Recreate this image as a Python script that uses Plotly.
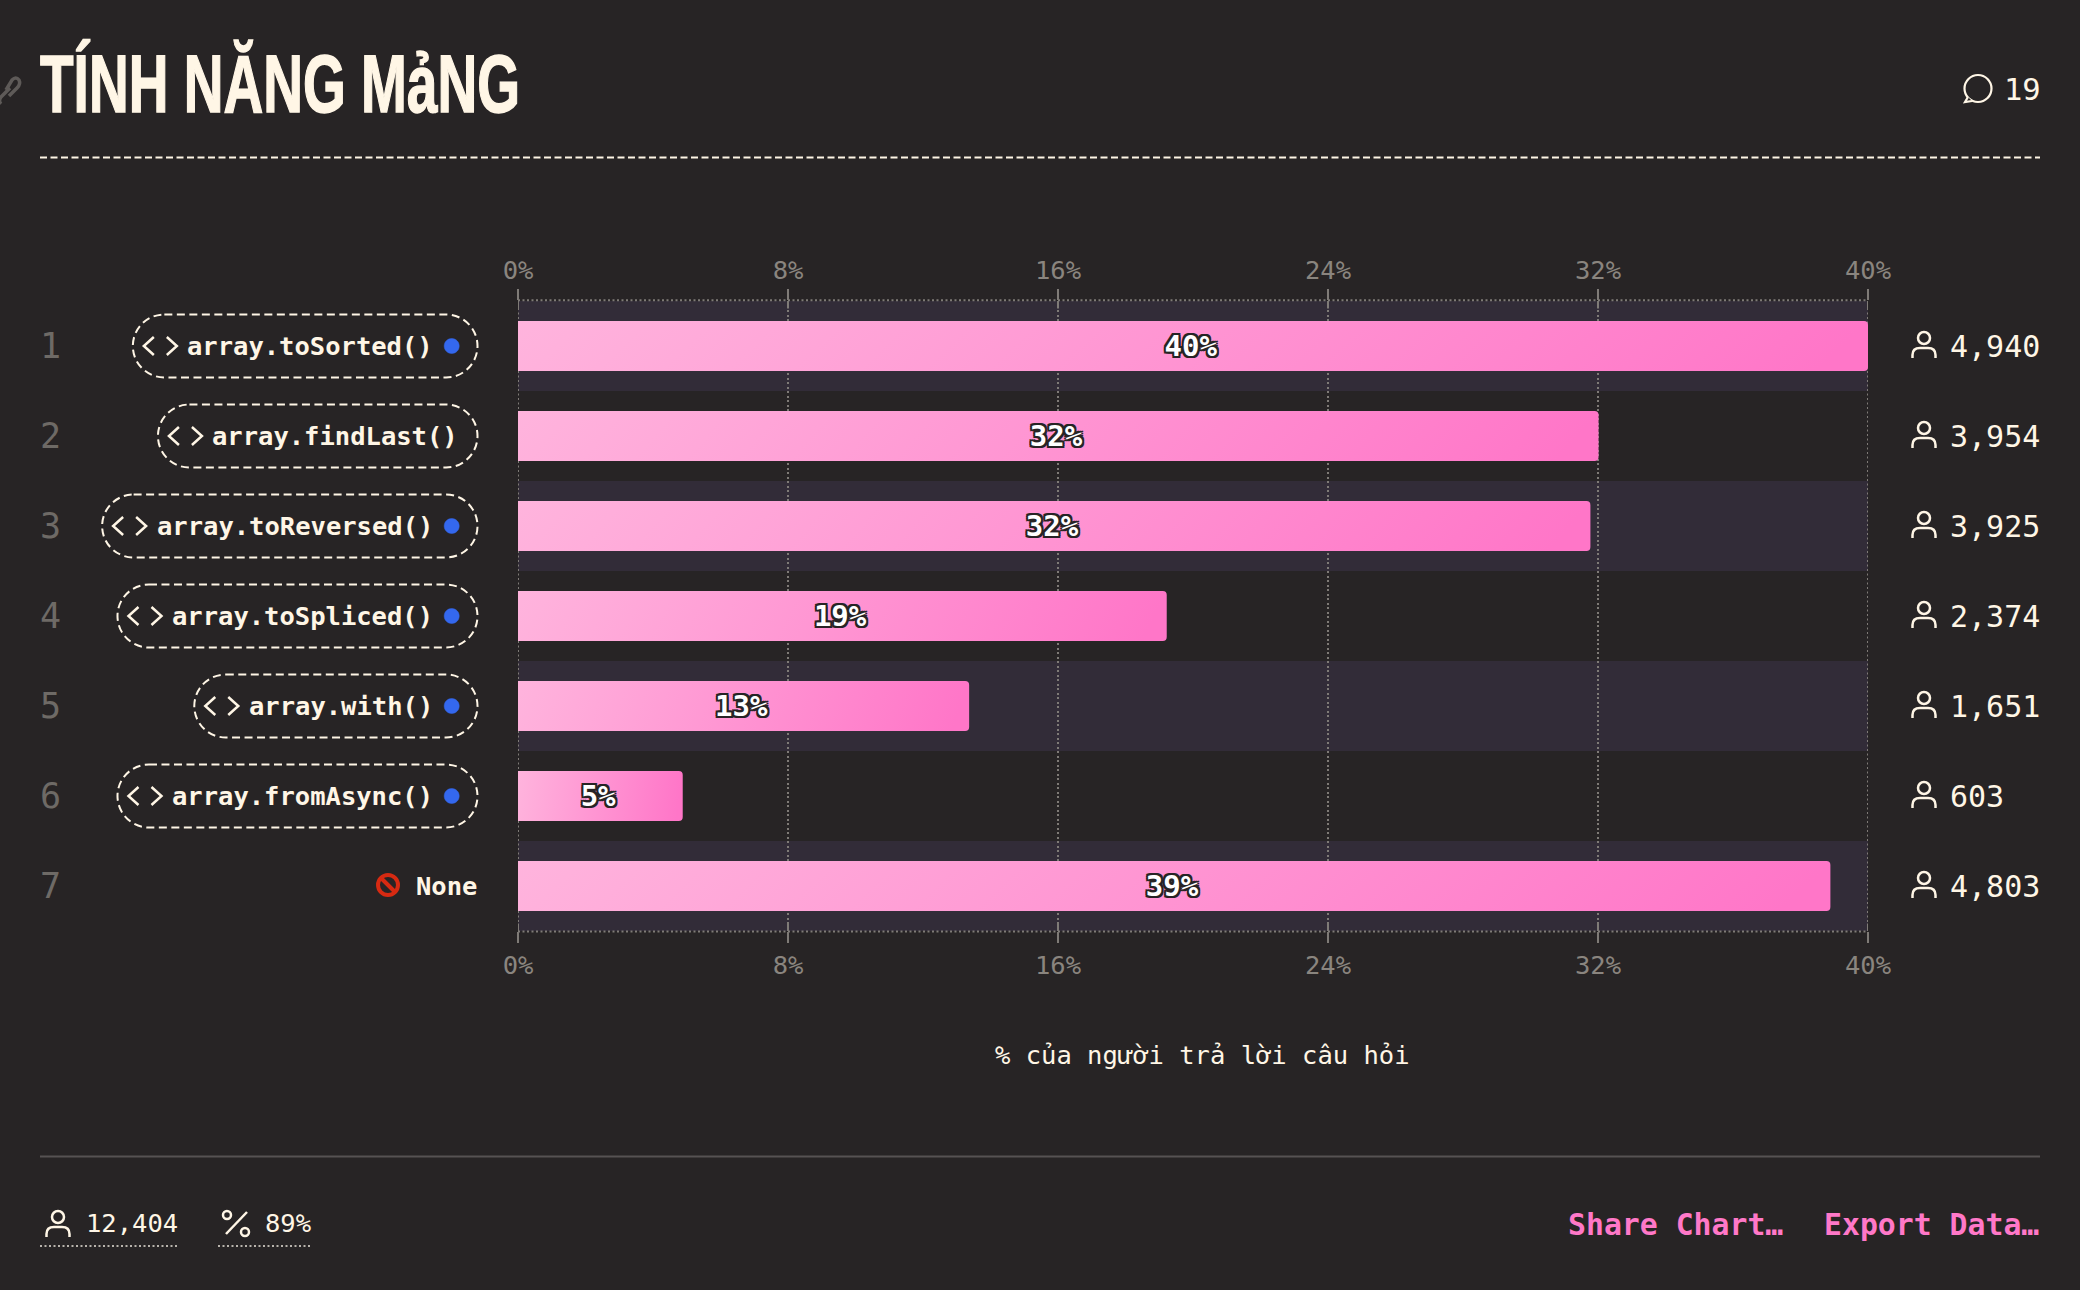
import plotly.graph_objects as go

# ---- data ----
categories = ["array.toSorted()", "array.findLast()", "array.toReversed()", "array.toSpliced()",
              "array.with()", "array.fromAsync()", "None"]
percent_values = [39.83, 31.88, 31.64, 19.14, 13.31, 4.86, 38.72]
percent_labels = ["40%", "32%", "32%", "19%", "13%", "5%", "39%"]
respondents = ["4,940", "3,954", "3,925", "2,374", "1,651", "603", "4,803"]
has_dot = [True, False, True, True, True, True, False]
tick_values = [0, 7.966, 15.932, 23.898, 31.864, 39.83]
tick_labels = ["0%", "8%", "16%", "24%", "32%", "40%"]
title_text = "TÍNH NĂNG MảNG"
axis_title = "% của người trả lời câu hỏi"
comment_count = "19"
total_respondents = "12,404"
total_percent = "89%"
footer_links = ["Share Chart…", "Export Data…"]

# ---- style / layout ----
W, H = 2080, 1290
L, R, T, B = 518, 1868, 301, 931
BG = "#272425"
BAND = "#322C38"
CREAM = "#FFF6E6"
GRID = "#7F7B77"
TICKC = "#8A857F"
PINK = "#FF78C8"
MONO = "DejaVu Sans Mono"
CHAR = 15.36
DOTS = "2px,2.5px"


def px(x):
    return (x - L) / (R - L)


def py(y):
    return (B - y) / (B - T)


def P(x, y):
    return f"{px(x):.5f},{py(y):.5f}"


shapes, annots = [], []


def path(d, color=CREAM, width=2.5, dash=None, fill=None):
    """d: list of (cmd, pixel points)"""
    s = ""
    for cmd, pts in d:
        s += cmd + " ".join(P(*p) for p in pts)
    line = dict(color=color, width=width)
    if dash:
        line["dash"] = dash
    shapes.append(dict(type="path", xref="paper", yref="paper", path=s, line=line,
                       fillcolor=fill or "rgba(0,0,0,0)", layer="above"))


def circle(cx, cy, r, **kw):
    k = 0.5523 * r
    path([("M", [(cx + r, cy)]),
          ("C", [(cx + r, cy + k), (cx + k, cy + r), (cx, cy + r)]),
          ("C", [(cx - k, cy + r), (cx - r, cy + k), (cx - r, cy)]),
          ("C", [(cx - r, cy - k), (cx - k, cy - r), (cx, cy - r)]),
          ("C", [(cx + k, cy - r), (cx + r, cy - k), (cx + r, cy)]), ("Z", [])], **kw)


def pill(x0, x1, y0, y1, **kw):
    r = (y1 - y0) / 2
    k = 0.5523 * r
    path([("M", [(x0 + r, y0)]), ("L", [(x1 - r, y0)]),
          ("C", [(x1 - r + k, y0), (x1, y0 + r - k), (x1, y0 + r)]),
          ("C", [(x1, y1 - r + k), (x1 - r + k, y1), (x1 - r, y1)]),
          ("L", [(x0 + r, y1)]),
          ("C", [(x0 + r - k, y1), (x0, y1 - r + k), (x0, y0 + r)]),
          ("C", [(x0, y0 + r - k), (x0 + r - k, y0), (x0 + r, y0)]), ("Z", [])], **kw)


def person(cx, cy):
    circle(cx, cy - 8, 6, width=2.5)
    path([("M", [(cx - 11.5, cy + 12)]), ("L", [(cx - 11.5, cy + 9)]),
          ("Q", [(cx - 11.5, cy + 2), (cx - 4, cy + 2)]), ("L", [(cx + 4, cy + 2)]),
          ("Q", [(cx + 11.5, cy + 2), (cx + 11.5, cy + 9)]), ("L", [(cx + 11.5, cy + 12)])], width=2.5)


def text(x, y, s, size, color=CREAM, anchor="left", family=MONO, weight=400):
    annots.append(dict(xref="paper", yref="paper", x=px(x), y=py(y), text=s, showarrow=False,
                       xanchor=anchor, yanchor="middle", borderpad=0,
                       font=dict(size=size, color=color, family=family, weight=weight)))


# alternating row bands (under the gridlines)
for i in range(0, len(categories), 2):
    shapes.append(dict(type="rect", xref="paper", yref="y", x0=0, x1=1, y0=i - 0.5, y1=i + 0.5,
                       fillcolor=BAND, line=dict(width=0), layer="below"))

# dotted gridlines at the two ends of the axis (plotly drops them at the range edges)
for tv in (tick_values[0], tick_values[-1]):
    shapes.append(dict(type="line", xref="x", yref="paper", x0=tv, x1=tv, y0=0, y1=1,
                       line=dict(color=GRID, width=2, dash=DOTS), layer="between"))

# dotted frame top / bottom
for yy in (py(931.5), py(300.3)):
    shapes.append(dict(type="line", xref="paper", yref="paper", x0=0, x1=1, y0=yy, y1=yy,
                       line=dict(color=GRID, width=2, dash=DOTS), layer="above"))
# inner stubs of the ticks
for tv in tick_values:
    for a, b in ((0, 0.012), (0.988, 1)):
        shapes.append(dict(type="line", xref="x", yref="paper", x0=tv, x1=tv, y0=a, y1=b,
                           line=dict(color=GRID, width=2), layer="above"))

# row furniture
for i, cat in enumerate(categories):
    cy = 346 + 90 * i
    text(39, cy, str(i + 1), 35, color="#6E6A66")
    person(1924, cy)
    text(1949, cy, respondents[i], 30)
    if cat == "None":
        text(477.5, cy, cat, 25.5, anchor="right", weight=700)
        circle(388, cy - 1, 10, color="#D62A12", width=4)
        path([("M", [(381, cy - 8)]), ("L", [(395, cy + 6)])], color="#D62A12", width=4)
        continue
    right = 433.6 if has_dot[i] else 458.7
    start = right - CHAR * len(cat)
    left = start - 55
    pill(left, 477.5, cy - 31.5, cy + 31.5, dash="8px,4.5px", width=2)
    path([("M", [(left + 21, cy - 9)]), ("L", [(left + 11, cy)]), ("L", [(left + 21, cy + 9)])], width=2.5)
    path([("M", [(left + 34, cy - 9)]), ("L", [(left + 44, cy)]), ("L", [(left + 34, cy + 9)])], width=2.5)
    text(right, cy, cat, 25.5, anchor="right", weight=700)
    if has_dot[i]:
        circle(451.7, cy, 7.5, color="#3468EE", width=0.5, fill="#3468EE")

# header
text(40, 84, title_text, 82, family="Liberation Sans", weight=700)
shapes.append(dict(type="line", xref="paper", yref="paper", x0=px(40), x1=px(2040), y0=py(157.5), y1=py(157.5),
                   line=dict(color=CREAM, width=2, dash="7px,3.5px")))
# link icon
LINK = "#5E5A58"
path([("M", [(6, 90)]), ("L", [(12, 80)]), ("Q", [(16, 76), (19, 80)]), ("Q", [(21, 84), (17, 88)]),
      ("L", [(9, 96)])], color=LINK, width=3.5)
path([("M", [(10, 88)]), ("L", [(1, 97)]), ("Q", [(-2, 101), (1, 104)])], color=LINK, width=3.5)
# comment icon + count
circle(1978, 88.5, 13.5, width=2.2)
path([("M", [(1968, 97)]), ("L", [(1965, 102)]), ("L", [(1972, 101)])], width=2.2, fill=BG)
text(2003, 89, comment_count, 30.5)

# axis title
text(1202, 1055, axis_title, 25.5, anchor="center")

# footer
shapes.append(dict(type="line", xref="paper", yref="paper", x0=px(40), x1=px(2040), y0=py(1156.5), y1=py(1156.5),
                   line=dict(color="#565253", width=2)))
person(58, 1225)
text(85, 1223, total_respondents, 25.5)
path([("M", [(226, 1234)]), ("L", [(247, 1212)])], width=2.5)
circle(227, 1215, 4, width=2.5)
circle(245, 1232, 4, width=2.5)
text(263.5, 1223, total_percent, 25.5)
for a, b in ((40, 178), (218, 310)):
    shapes.append(dict(type="line", xref="paper", yref="paper", x0=px(a), x1=px(b), y0=py(1246), y1=py(1246),
                       line=dict(color="#B8B3AC", width=2, dash=DOTS)))
text(1567, 1224, footer_links[0], 29.8, color=PINK, weight=700)
text(1823, 1224, footer_links[1], 29.8, color=PINK, weight=700)

shadow = ",".join(f"{dx}px {dy}px 0 {BG}" for dx in (-2, 0, 2) for dy in (-2, 0, 2) if dx or dy)

fig = go.Figure()
fig.add_trace(go.Bar(
    x=percent_values, y=categories, orientation="h", text=percent_labels,
    textposition="inside", insidetextanchor="middle", textangle=0, constraintext="none",
    textfont=dict(family=MONO, size=29, color="#FFFFFF", weight=700, shadow=shadow),
    marker=dict(color=PINK, line=dict(width=0)), hoverinfo="skip", showlegend=False))
# carrier for the top axis
fig.add_trace(go.Scatter(x=percent_values, y=categories, xaxis="x2", mode="markers",
                         marker=dict(opacity=0), hoverinfo="skip", showlegend=False))

axis_common = dict(
    range=[0, percent_values[0]], tickmode="array", tickvals=tick_values, ticktext=tick_labels,
    tickfont=dict(family=MONO, size=25.5, color=TICKC), ticks="outside", ticklen=11, tickwidth=2,
    tickcolor=GRID, showgrid=True, gridcolor=GRID, gridwidth=2, griddash=DOTS,
    zeroline=False, showline=False)
fig.update_layout(
    width=W, height=H, autosize=False,
    margin=dict(l=L, r=W - R, t=T, b=H - B, pad=0),
    paper_bgcolor=BG, plot_bgcolor=BG,
    bargap=0.444, barcornerradius=4, showlegend=False, hovermode=False,
    xaxis=dict(side="bottom", ticklabelstandoff=0, **axis_common),
    xaxis2=dict(side="top", overlaying="x", anchor="y", ticklabelstandoff=0, **axis_common),
    yaxis=dict(type="category", categoryorder="array", categoryarray=categories,
               range=[len(categories) - 0.5, -0.5], showticklabels=False, ticks="",
               showgrid=False, zeroline=False, showline=False),
    shapes=shapes, annotations=annots)

post = """
document.body.style.margin='0';
document.documentElement.style.overflow='hidden';
var gd=document.getElementById('{plot_id}');
var svg=gd.querySelector('svg.main-svg');
var NS='http://www.w3.org/2000/svg';
var defs=svg.querySelector('defs')||svg.insertBefore(document.createElementNS(NS,'defs'),svg.firstChild);
var g=document.createElementNS(NS,'linearGradient');
g.setAttribute('id','barGrad');g.setAttribute('x1','0');g.setAttribute('y1','0');
g.setAttribute('x2','1');g.setAttribute('y2','0.04');
[['0%','#FFB4DD'],['100%','#FF76C8']].forEach(function(s){
  var e=document.createElementNS(NS,'stop');e.setAttribute('offset',s[0]);e.setAttribute('stop-color',s[1]);g.appendChild(e);});
defs.appendChild(g);
gd.querySelectorAll('.bars .point path').forEach(function(p){p.style.fill='url(#barGrad)';});
gd.querySelectorAll('.bars .bartext').forEach(function(t){t.setAttribute('dx','-2');});
gd.querySelectorAll('.annotation-text').forEach(function(t){
  if(t.textContent.indexOf('TÍNH')===0){
    t.setAttribute('textLength','480');t.setAttribute('lengthAdjust','spacingAndGlyphs');
    t.style.stroke='#FFF6E6';t.style.strokeWidth='1.5px';
    var r=t.getBoundingClientRect();
    t.setAttribute('x',parseFloat(t.getAttribute('x')||0)+(40-r.left));
  }
});
"""
fig.write_html("out.html", post_script=post, config={"displayModeBar": False})
